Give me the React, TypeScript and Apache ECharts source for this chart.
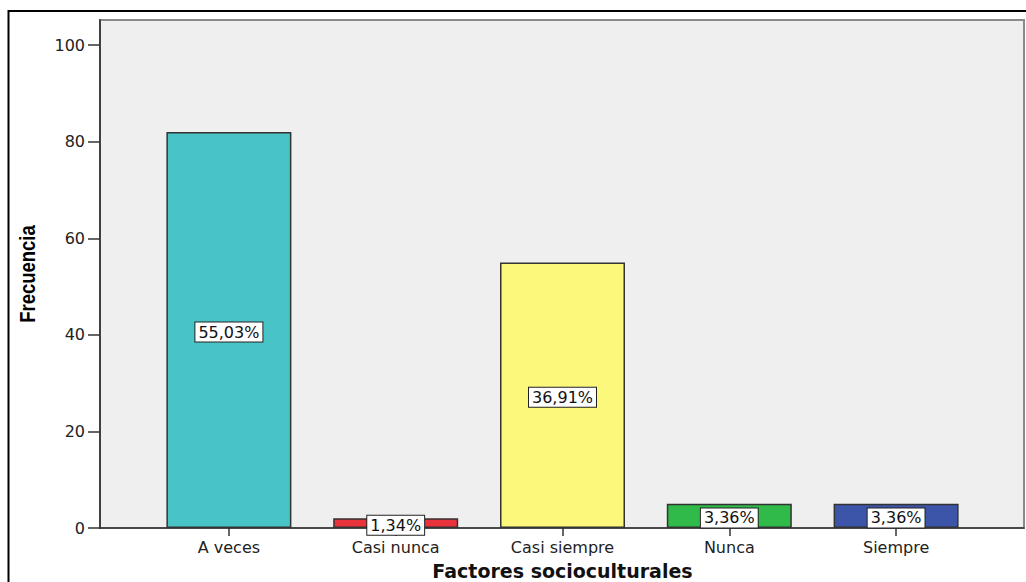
import React, { useEffect, useRef } from "react";
import * as echarts from "echarts";

const categories = ["A veces", "Casi nunca", "Casi siempre", "Nunca", "Siempre"];
const counts = [82, 2, 55, 5, 5];
const percentLabels = ["55,03%", "1,34%", "36,91%", "3,36%", "3,36%"];
const barColors = ["#48c3c6", "#e8333b", "#fbf87c", "#2fba4a", "#3c55a8"];
const yTicks = [0, 20, 40, 60, 80, 100];
const xTitle = "Factores socioculturales";
const yTitle = "Frecuencia";

const FONT = "'DejaVu Sans', Verdana, sans-serif";

export default function App() {
  const ref = useRef<HTMLDivElement>(null);
  useEffect(() => {
    document.body.style.margin = "0";
    const chart = echarts.init(ref.current!, null, { renderer: "svg" });
    const yMax = 105.2;
    chart.setOption({
      animation: false,
      backgroundColor: "#ffffff",
      graphic: [
        {
          type: "rect",
          shape: { x: 8.5, y: 11, width: 1040, height: 600 },
          style: { fill: "none", stroke: "#000", lineWidth: 2 },
          z: 0,
        },
        {
          type: "text",
          x: 27.5,
          y: 274,
          rotation: Math.PI / 2,
          scaleX: 0.84,
          style: {
            text: yTitle,
            font: "bold 22px 'Liberation Sans', Arial, sans-serif",
            fill: "#000",
            align: "center",
            verticalAlign: "middle",
          },
          z: 5,
        },
      ],
      grid: [
        {
          left: 100,
          right: 2,
          top: 20,
          bottom: 54,
          show: true,
          backgroundColor: "#efefef",
          borderColor: "#8a8a8a",
          borderWidth: 2,
          outerBoundsMode: "none",
        },
        {
          left: 145.5,
          width: 834,
          top: 20,
          bottom: 54,
          outerBoundsMode: "none",
        },
      ],
      xAxis: [
        {
          gridIndex: 0,
          type: "value",
          min: 0,
          max: 1,
          axisLine: { show: true, lineStyle: { color: "#333", width: 1.5 } },
          axisTick: { show: false },
          axisLabel: { show: false },
          splitLine: { show: false },
        },
        {
          gridIndex: 1,
          type: "category",
          data: categories,
          boundaryGap: true,
          axisLine: { show: false },
          axisTick: {
            show: true,
            alignWithLabel: true,
            length: 8,
            lineStyle: { color: "#333", width: 1.5 },
          },
          axisLabel: {
            margin: 11,
            color: "#222",
            fontFamily: FONT,
            fontSize: 16,
          },
          name: xTitle,
          nameLocation: "middle",
          nameGap: 33,
          nameTextStyle: {
            fontFamily: FONT,
            fontWeight: "bold",
            fontSize: 19,
            color: "#111",
          },
        },
      ],
      yAxis: [
        {
          gridIndex: 0,
          type: "value",
          min: 0,
          max: yMax,
          axisLine: { show: true, lineStyle: { color: "#404040", width: 2 } },
          axisTick: {
            show: true,
            length: 12,
            customValues: yTicks,
            lineStyle: { color: "#333", width: 1.5 },
          },
          axisLabel: {
            customValues: yTicks,
            margin: 15,
            color: "#222",
            fontFamily: FONT,
            fontSize: 16,
          },
          splitLine: { show: false },
        },
        {
          gridIndex: 1,
          type: "value",
          min: 0,
          max: yMax,
          show: false,
          splitLine: { show: false },
        },
      ],
      series: [
        {
          type: "bar",
          xAxisIndex: 1,
          yAxisIndex: 1,
          barWidth: 125,
          data: counts.map((v, i) => ({
            value: v,
            itemStyle: {
              color: barColors[i],
              borderColor: "#333",
              borderWidth: 1.5,
            },
          })),
          label: {
            show: true,
            position: "inside",
            offset: [0, 2],
            formatter: (p: any) => percentLabels[p.dataIndex],
            backgroundColor: "#ffffff",
            borderColor: "#222",
            borderWidth: 1,
            padding: [1, 3, 1, 3],
            lineHeight: 17,
            color: "#111",
            fontFamily: FONT,
            fontSize: 16,
          },
          z: 3,
        },
      ],
    });
    return () => chart.dispose();
  }, []);
  return <div ref={ref} style={{ width: 1026, height: 582 }} />;
}
